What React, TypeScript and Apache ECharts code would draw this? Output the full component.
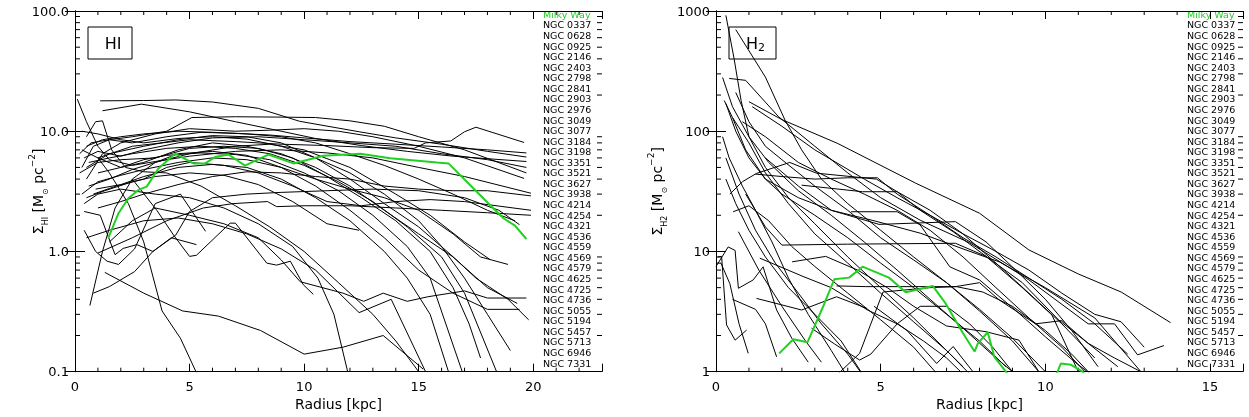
import React, { useEffect, useRef } from 'react';
import * as echarts from 'echarts';

const FONT = 'DejaVu Sans';
const GREEN = '#22d022';

const galaxyNames = [
  'NGC 0337', 'NGC 0628', 'NGC 0925', 'NGC 2146', 'NGC 2403', 'NGC 2798', 'NGC 2841', 'NGC 2903',
  'NGC 2976', 'NGC 3049', 'NGC 3077', 'NGC 3184', 'NGC 3198', 'NGC 3351', 'NGC 3521', 'NGC 3627',
  'NGC 3938', 'NGC 4214', 'NGC 4254', 'NGC 4321', 'NGC 4536', 'NGC 4559', 'NGC 4569', 'NGC 4579',
  'NGC 4625', 'NGC 4725', 'NGC 4736', 'NGC 5055', 'NGC 5194', 'NGC 5457', 'NGC 5713', 'NGC 6946',
  'NGC 7331',
];

const milkyWayHI = [[1.45,1.29],[1.9,2.08],[2.33,2.77],[2.77,3.25],[3.13,3.46],[3.64,4.9],[4.37,6.5],[5.17,5.4],[5.68,5.4],[6.11,6.1],[6.7,6.4],[7.42,5.17],[8.44,6.4],[9.53,5.4],[10.84,6.25],[12.45,6.5],[13.76,5.95],[15.8,5.5],[16.3,5.4],[17.1,3.8],[18.1,2.45],[18.7,1.89],[19.2,1.64],[19.7,1.27]];

const milkyWayH2 = [[1.92,1.42],[2.35,1.86],[2.78,1.76],[3.23,3.37],[3.59,5.87],[4.04,6.06],[4.45,7.47],[5.25,6.06],[5.76,4.58],[6.16,4.85],[6.58,5.17],[6.97,3.7],[7.5,2.09],[7.85,1.47],[7.95,1.72],[8.25,2.13],[8.45,1.33],[8.8,1.0],[9.2,0.7],[10.0,0.7],[10.37,1.0],[10.47,1.17],[10.78,1.14],[11.13,1.0],[11.4,0.8]];

const hiProfiles = [
  [[0.1,18.5],[0.5,12],[1.0,7.5],[1.5,5.8],[2.5,5.2],[3.5,5.6],[5,6.2],[7,6.8],[9,7.0],[11,6.6],[13,6.0],[15,5.0],[17,4.2],[19.9,3.05]],
  [[1.1,17.9],[3,18.0],[4.4,18.2],[6,17.5],[8,15.5],[9.8,12.1],[12.4,9.9],[14,8.8],[16,7.8],[18,6.8],[19.7,6.1]],
  [[1.2,14.8],[2.9,16.8],[5,14.5],[7,12],[9,10],[10.5,8.7],[12.5,7.6],[14.5,6.8],[16.5,6.2],[19.7,5.6]],
  [[1.0,6],[2.5,7.5],[5,8.5],[7,8.2],[9,7.8],[11,7.6],[13,7.3],[14.8,7.2],[15.3,8.0],[16.4,8.3],[17,9.9],[17.5,10.8],[19.6,8.06]],
  [[0.5,9],[0.9,12],[1.2,12.2],[1.6,7],[2.2,5],[3,4.6],[4,4.5],[5.5,3.5],[7,2.4],[8.5,1.6],[10,1.0],[11.5,0.55],[13,0.3],[14,0.18],[15,0.1]],
  [[0.3,5],[0.8,7.5],[1.5,8.5],[2.5,9],[4,10],[5.1,13],[7,13.2],[9,13.1],[10.5,13],[12,12.2],[13.5,11],[15,9],[17,7],[19.7,4.5]],
  [[0.5,4],[1.2,6.5],[2,8],[3.5,9.5],[5,10.5],[7,10],[8.5,10.2],[10,10.5],[11.5,10],[13,9],[15,7.5],[17,6],[19.6,4.05]],
  [[0.4,6],[1.0,6.8],[2,6.2],[3,7],[4.5,8],[6,8.8],[8,9],[10,8.5],[12,8],[14,7.5],[16,6.5],[18,5.8],[19.7,5.0]],
  [[0.6,3.5],[1.5,4],[2.5,4.8],[3.5,5.5],[5,6.5],[7,7.5],[8.5,7.8],[10,7],[12,5],[14,3],[15.5,2],[17,1.2],[18.1,0.86]],
  [[0.3,7],[1,6],[2,5],[3,5.5],[4.5,7],[6,8],[7.5,7.5],[9,6.5],[10.5,5],[12,3.5],[13.5,2.2],[15,1.4],[16.5,0.9],[18,0.5],[19.3,0.37]],
  [[0.2,4.5],[1,5.5],[2,5.8],[3.5,6],[5,7.2],[6.5,7.5],[8,7.2],[9.5,6],[11,4.2],[12.5,2.8],[14,1.8],[15.5,1.0],[16.5,0.5],[17.2,0.25],[17.7,0.13]],
  [[0.8,3],[1.8,3.5],[3,4],[4,5],[5,5.5],[6.5,5.2],[8,4.5],[9.5,3.5],[11,2.6],[12.5,2.4],[14,2.6],[15.5,2.7],[17,2.6],[19.9,2.2]],
  [[1.0,0.97],[2.5,1.3],[4,1.8],[5.6,2.3],[6.9,2.5],[8.4,2.6],[8.8,2.36],[10,2.4],[12,2.4],[14,2.3],[16,2.2],[18,2.1],[19.9,2.0]],
  [[0.8,0.45],[1.5,0.51],[2.6,0.68],[3.4,1.0],[4.4,1.37],[5,2.15],[6,2.8],[7.5,3.0],[9,3.1],[11,3.2],[13,3.3],[15,3.2],[17,2.8],[18.5,2.2],[19.4,1.67]],
  [[2.5,4],[3.57,2.2],[4.3,1.37],[5.0,0.91],[5.3,0.93],[6.77,1.72],[7.0,1.72],[8.37,0.8],[8.8,0.77],[9.4,0.83],[9.96,0.53],[10.4,0.44]],
  [[1.0,6],[1.5,4.5],[2.33,2.5],[3,1.2],[3.8,0.32],[4.6,0.19],[5.3,0.098]],
  [[0.65,0.355],[1.2,1.0],[1.75,2.3],[2.5,4],[3.5,5.5],[4.5,6.5],[6,6.8],[7.5,6.3],[9,5],[10.5,3.5],[12,2.2],[13.5,1.3],[15,0.7],[16.5,0.45],[18,0.33],[19.4,0.33]],
  [[1.3,0.67],[3,0.45],[4.7,0.32],[6.26,0.29],[8.1,0.22],[10,0.14],[11.7,0.16],[13.45,0.2],[15.2,0.105]],
  [[0.4,2.15],[1.1,2.0],[1.75,0.94],[2.1,1.06],[2.7,1.14],[3.4,1.0],[4.2,1.3],[5.3,1.14]],
  [[0.4,1.5],[0.9,1.0],[1.4,0.83],[1.9,0.78],[2.6,1.05],[3.5,2.5],[4.6,3.0],[5.7,1.47]],
  [[0.5,5],[1.5,6.5],[3,7.5],[4.5,8.5],[6,9.2],[7.5,9],[9,8],[10.5,6],[12,4],[13.5,2.5],[15,1.6],[16.4,0.94],[17.5,0.6],[18.9,0.4],[19.8,0.27]],
  [[0.3,3],[1,3.8],[2,4.3],[3,4.8],[4.5,5.5],[6,6],[7.5,5.8],[9,5],[10.5,4],[12,3.3],[13.5,2.8],[15,2.2],[16.5,1.4],[17.7,0.9],[18.9,0.78]],
  [[0.5,2.8],[1.3,3.2],[2.5,3.8],[3.5,4.2],[5,4.5],[6.5,4.3],[8,3.6],[9.5,2.6],[11,1.7],[12.4,1.5]],
  [[1,2.3],[2,2.6],[3,3.0],[4.5,3.6],[6,4.2],[7.5,4.6],[9,4.5],[10.5,4.2],[12,4.0],[13.5,3.5],[15,3.3],[16.5,3.2],[18,3.2],[19.9,2.9]],
  [[0.2,6.5],[0.7,8],[1.5,8.5],[2.5,8],[4,9],[5.5,9.8],[7,9.6],[8.5,9.3],[10,8.8],[12,8.2],[14,7.8],[16,7.4],[18,7.0],[19.7,6.6]],
  [[0.5,7.5],[1.2,8.5],[2,9],[3,9.5],[4.5,10],[6,9.8],[7.5,9.5],[9,9],[10.5,8],[12,6.5],[13.5,5.2],[15,4],[16.5,3],[18,2.2],[19.2,1.8]],
  [[0.3,10],[1,9.5],[2,8.5],[3,8],[4.5,8.7],[6,9],[7.5,8.6],[9,7.5],[10.5,6],[12,4.5],[13.5,3],[15,1.8],[16,1.1],[17,0.6],[18,0.3],[19,0.15]],
  [[0.6,5.5],[1.5,6],[2.5,6.5],[4,7.2],[5.5,7.5],[7,7.2],[8.5,6.5],[10,5.2],[11.5,3.8],[13,2.6],[14.5,1.6],[16,0.9],[17,0.45],[18.4,0.1]],
  [[1.0,4.5],[2,5],[3,5.8],[4,6.3],[5.5,6.6],[7,6.4],[8.5,5.8],[10,4.5],[11.5,3.2],[13,2],[14.5,1.1],[15.5,0.6],[16.9,0.1]],
  [[0.9,3.3],[2,3.6],[3,4.2],[4.5,5],[6,5.3],[7.5,5],[9,4],[10.5,2.8],[12,1.8],[13.5,1.0],[14.5,0.6],[15.5,0.3],[16.3,0.1]],
  [[0.4,2.5],[1.0,3],[2,3.3],[3.5,3],[5,2.8],[6.5,2.3],[8,1.7],[9.5,1.1],[10.6,0.6],[11.3,0.3],[11.9,0.1]],
  [[1.5,1.2],[2.5,1.8],[3.5,2.3],[5,2.0],[6.5,1.7],[8,1.3],[9,0.85],[9.83,0.56],[11.7,0.45],[12.6,0.385],[13.45,0.45],[14.5,0.385],[15.4,0.42],[17,0.47],[18,0.41],[19.7,0.41]],
  [[0.5,1.3],[1.5,1.5],[3,1.8],[4.5,1.9],[6,1.7],[7.5,1.4],[9,1.05],[10.5,0.7],[12.4,0.31],[13.8,0.40],[15.3,0.1]],
];

const h2Profiles = [
  [[0.3,920],[0.55,400],[0.76,181],[1.0,90],[1.5,50],[2.2,28],[3,17],[4,9],[5,5],[6,2.8],[7,1.5],[7.8,0.9]],
  [[0.6,700],[1.5,282],[2.1,123],[2.6,70],[3.2,40],[4,25],[5,15],[6,9],[7,5.5],[8,3.2],[9,1.8],[9.8,1.0]],
  [[1.0,176],[2,125],[3.7,79],[6.06,37],[8,20.8],[9.5,10.3],[11,6.5],[12.3,4.6],[13.8,2.56]],
  [[0.4,275],[0.9,265],[1.9,132],[3,75],[4,45],[5,28],[6.2,18.2],[7.7,11.8],[9.5,5.8],[11.3,2.5],[12.1,2.5],[12.8,1.38],[13.6,1.65]],
  [[0.3,170],[0.6,100],[1,60],[1.5,40],[2.5,28],[3.5,22],[4.8,18],[6.2,14.2],[7.5,10.5],[8.6,8.2],[10,5],[11.5,2.8],[12.9,1.0]],
  [[0.25,180],[0.5,130],[0.9,70],[1.5,40],[2,30],[3,20],[4,13],[5,8],[6,5],[7,3],[8,1.8],[8.8,1.1]],
  [[0.6,210],[1.0,120],[1.5,75],[2,58],[3,35],[4,22],[5,13],[6,8.5],[7,5.5],[8,3.3],[9,1.9],[10,1.0]],
  [[0.42,30],[0.8,38],[1.23,44.6],[2.24,55],[3.05,44.8],[4.87,40],[5.5,31.4],[6.5,22],[7.5,14],[8.5,8],[9.5,4.5],[10.5,2.5],[11.5,1.3]],
  [[1.2,44],[2,42],[3,40],[4,41],[4.9,41],[5.5,30],[6.5,20],[7.5,13],[8.5,9],[9.5,6],[10.5,4],[11.5,2.5],[12.5,1.4]],
  [[3.6,0.9],[4.36,1.42],[5.07,4.6],[5.8,4.8],[6.5,5.0],[7.3,5.1],[8.1,4.6],[9,3.5],[10,2.2],[10.8,1.4],[11.3,1.0]],
  [[3.66,5.17],[4.55,5.1],[5.5,5.1],[7.27,5.1],[8,5.5],[8.6,3.95],[9.7,2.5],[10.5,2.66],[11.3,1.72],[12.1,1.3],[12.9,1.0]],
  [[0.0,7.5],[0.37,10.9],[0.58,10.2],[0.68,4.94],[1.13,5.8],[1.43,7.45],[1.84,3.26],[2.3,1.9],[2.8,1.2]],
  [[0.05,9],[0.17,9.1],[0.32,2.45],[0.58,1.83],[0.93,2.22]],
  [[0.15,8],[0.42,5.4],[0.7,2.5],[0.98,1.42]],
  [[0.5,4],[1.2,3.3],[1.5,2.5],[1.84,1.33]],
  [[0.68,14.6],[1.3,7],[2,3.5],[2.7,1.83],[3.2,1.2]],
  [[1.23,4.07],[2.6,3.26],[3.66,4.2],[4.57,3.37]],
  [[1.33,8.8],[2.64,6.2],[3.5,5],[4.6,3.26],[5.5,2.5],[6.3,1.8],[7,1.3],[7.6,0.9]],
  [[0.52,21.4],[1.0,24],[1.6,18],[2.3,11],[3,7.5],[4,4.5],[5,2.7],[6,1.6],[6.8,0.9]],
  [[0.9,30],[1.5,16],[2.0,11.3],[4.0,11.5],[7.27,11.7],[8.2,9.1],[9.3,5],[10.2,2.96],[11,1.0]],
  [[1.5,60],[2.5,35],[3.5,22],[4.95,16.8],[7.27,17.7],[8.2,12],[9.1,7],[10,4],[10.8,2.2],[11.6,1.1]],
  [[2.6,35.6],[4.45,31.4],[5.5,31.4],[6.2,22],[7.2,14.6],[8.2,9.1],[9.3,5.5],[10.4,2.7],[11.3,1.72],[12.2,1.1]],
  [[4.1,21.4],[5.5,21.4],[6.2,16.6],[7.1,7.45],[8,5.8],[9.2,3.06],[10,1.95],[10.9,1.2],[11.5,0.9]],
  [[2.31,8.2],[3.33,9.1],[4.3,7],[5.2,5],[6,3.5],[7,2.4],[8.2,2.15],[9.2,1.83],[9.8,1.0]],
  [[4.8,3.5],[5.8,2.2],[6.7,1.17],[7.2,1.62],[7.8,1.0]],
  [[0.2,90],[0.4,60],[0.8,35],[1.2,22],[1.7,12],[2.2,6],[2.8,3],[3.5,1.5],[4,0.9]],
  [[0.3,60],[0.7,30],[1.2,15],[1.8,8],[2.5,4.5],[3.2,2.5],[4,1.4],[4.5,0.9]],
  [[0.5,130],[1.0,80],[1.5,45],[2.2,25],[3,14],[4,8],[5,4.5],[6,2.6],[7,1.5],[7.5,1.1]],
  [[0.8,120],[1.5,90],[2.5,55],[3.5,40],[4.5,30],[5.5,22],[6.5,15],[7.5,9],[8.5,5],[9.5,2.8],[10.5,1.6],[11.2,1.0]],
  [[1.1,160],[2,110],[3,70],[4.5,40],[5.5,28],[6.5,20],[7.5,14],[8.5,10],[9.5,7],[10.5,4.5],[11.5,3],[12.3,2.6],[13,1.6]],
  [[0.3,40],[0.6,25],[1,15],[1.5,9],[2.2,5],[3,3],[3.8,1.8],[4.4,1.0]],
  [[2.9,2.3],[3.6,1.7],[4.36,1.25],[4.7,1.4],[5.5,2.5],[6.2,3.5],[7,3.5],[7.7,2.5],[8.4,1.6],[9,1.0]],
  [[0.2,280],[0.5,160],[1,90],[1.6,55],[2.5,32],[3.5,20],[4.5,12],[5.5,7],[6.5,4],[7.5,2.3],[8.5,1.3],[9,1.0]],
];

const hiTickLabels = ['0.1', '1.0', '10.0', '100.0'];
const h2TickLabels = ['1', '10', '100', '1000'];

const panels = [
  { xMax: 23, yMin: 0.1, yMax: 100, labels: hiTickLabels, left: 75, nameGap: 26,
    yName: '{a|Σ}{b|HI}{a| [M}{b|⊙}{a| pc}{c|−2}{a|]}', legendX: 543, boxX: 88, boxW: 44, boxText: '{h|HI}',
    profiles: hiProfiles, mw: milkyWayHI },
  { xMax: 16, yMin: 1, yMax: 1000, labels: h2TickLabels, left: 716, nameGap: 48,
    yName: '{a|Σ}{b|H2}{a| [M}{b|⊙}{a| pc}{c|−2}{a|]}', legendX: 1187, boxX: 729, boxW: 47, boxText: '{h|H}{s|2}',
    profiles: h2Profiles, mw: milkyWayH2 },
];

const TOP = 11;
const HEIGHT = 360.7;
const WIDTH = 527;

function lineEl(x1: number, y1: number, x2: number, y2: number) {
  return { type: 'line', silent: true, shape: { x1, y1, x2, y2 }, style: { stroke: '#000', lineWidth: 1 } };
}

export default function App() {
  const ref = useRef<HTMLDivElement>(null);
  useEffect(() => {
    const chart = echarts.init(ref.current!, null, { renderer: 'svg' });
    const grid: any[] = [];
    const xAxis: any[] = [];
    const yAxis: any[] = [];
    const series: any[] = [];
    const axisLine = { show: true, lineStyle: { color: '#000', width: 1 } };
    panels.forEach((p, i) => {
      grid.push({ left: p.left, top: TOP, width: WIDTH, height: HEIGHT });
      const fmtX = (v: number) => (v % 5 === 0 ? String(v) : '');
      xAxis.push({
        type: 'value', gridIndex: i, position: 'bottom', min: 0, max: p.xMax, interval: 5,
        axisLine, splitLine: { show: false },
        axisTick: { inside: true, length: 8, lineStyle: { color: '#000' } },
        axisLabel: { formatter: fmtX, color: '#000', fontSize: 13, fontFamily: FONT, margin: 8 },
        name: 'Radius [kpc]', nameLocation: 'middle', nameGap: 25, nameMoveOverlap: false,
        nameTextStyle: { color: '#000', fontSize: 14, fontFamily: FONT },
      });
      xAxis.push({
        type: 'value', gridIndex: i, position: 'top', min: 0, max: p.xMax, interval: 5,
        axisLine, splitLine: { show: false },
        axisTick: { inside: true, length: 8, lineStyle: { color: '#000' } },
        axisLabel: { show: false },
      });
      yAxis.push({
        type: 'log', logBase: 10, gridIndex: i, position: 'left', min: p.yMin, max: p.yMax,
        axisLine, splitLine: { show: false },
        axisTick: { inside: true, length: 10, lineStyle: { color: '#000' } },
        axisLabel: {
          color: '#000', fontSize: 13, fontFamily: FONT, margin: 6,
          formatter: (v: number) => {
            const k = Math.round(Math.log10(v) - Math.log10(p.yMin));
            return p.labels[k] ?? '';
          },
        },
        name: p.yName, nameLocation: 'middle', nameGap: p.nameGap, nameMoveOverlap: false,
        nameTextStyle: {
          color: '#000', fontFamily: FONT,
          rich: {
            a: { fontSize: 14, fontFamily: FONT, color: '#000', lineHeight: 22 },
            b: { fontSize: 8, fontFamily: FONT, color: '#000', lineHeight: 10, verticalAlign: 'bottom' },
            c: { fontSize: 9, fontFamily: FONT, color: '#000', lineHeight: 12, verticalAlign: 'top' },
          },
        },
      });
      yAxis.push({
        type: 'log', logBase: 10, gridIndex: i, position: 'right', min: p.yMin, max: p.yMax,
        axisLine, splitLine: { show: false },
        axisTick: { inside: true, length: 10, lineStyle: { color: '#000' } },
        axisLabel: { show: false },
      });
      p.profiles.forEach((d, j) => {
        series.push({
          type: 'line', name: galaxyNames[j], xAxisIndex: i * 2, yAxisIndex: i * 2, data: d,
          symbol: 'none', clip: true, lineStyle: { color: '#000', width: 1 }, z: 2, silent: true,
        });
      });
      series.push({
        type: 'line', name: 'Milky Way', xAxisIndex: i * 2, yAxisIndex: i * 2, data: p.mw,
        symbol: 'none', clip: true, lineStyle: { color: GREEN, width: 2 }, z: 3, silent: true,
      });
    });

    chart.setOption({ animation: false, grid, xAxis, yAxis, series });

    const graphic: any[] = [];
    panels.forEach((p, i) => {
      const xi = i * 2;
      const yi = i * 2;
      const left = chart.convertToPixel({ xAxisIndex: xi }, 0) as number;
      const right = chart.convertToPixel({ xAxisIndex: xi }, p.xMax) as number;
      const bottom = chart.convertToPixel({ yAxisIndex: yi }, p.yMin) as number;
      const top = chart.convertToPixel({ yAxisIndex: yi }, p.yMax) as number;
      const d0 = Math.round(Math.log10(p.yMin));
      const d1 = Math.round(Math.log10(p.yMax));
      for (let d = d0; d < d1; d++) {
        for (let k = 2; k <= 9; k++) {
          const y = chart.convertToPixel({ yAxisIndex: yi }, k * Math.pow(10, d)) as number;
          graphic.push(lineEl(left, y, left + 5, y));
          graphic.push(lineEl(right - 5, y, right, y));
        }
      }
      for (let v = 1; v < p.xMax; v++) {
        if (v % 5 === 0) continue;
        const x = chart.convertToPixel({ xAxisIndex: xi }, v) as number;
        graphic.push(lineEl(x, bottom, x, bottom - 4));
        graphic.push(lineEl(x, top, x, top + 4));
      }
      graphic.push({
        type: 'rect', silent: true, shape: { x: p.boxX, y: 27, width: p.boxW, height: 32 },
        style: { fill: 'none', stroke: '#000', lineWidth: 1 },
      });
      graphic.push({
        type: 'text', silent: true, x: p.boxX + p.boxW / 2 + 3, y: 43,
        style: {
          text: p.boxText, align: 'center', verticalAlign: 'middle',
          rich: {
            h: { fontSize: 16, fontFamily: FONT, fill: '#000', lineHeight: 20 },
            s: { fontSize: 11, fontFamily: FONT, fill: '#000', lineHeight: 12, verticalAlign: 'bottom' },
          },
        },
      });
      const legendNames = ['Milky Way', ...galaxyNames];
      legendNames.forEach((n, j) => {
        graphic.push({
          type: 'text', silent: true, x: p.legendX, y: 14.3 + j * 10.57,
          style: {
            text: n, fontSize: 9.5, fontFamily: FONT, fill: j === 0 ? GREEN : '#000',
            verticalAlign: 'middle', align: 'left',
          },
        });
      });
    });
    chart.setOption({ graphic });

    return () => chart.dispose();
  }, []);
  return <div ref={ref} style={{ position: 'fixed', left: 0, top: 0, width: 1249, height: 417 }} />;
}
